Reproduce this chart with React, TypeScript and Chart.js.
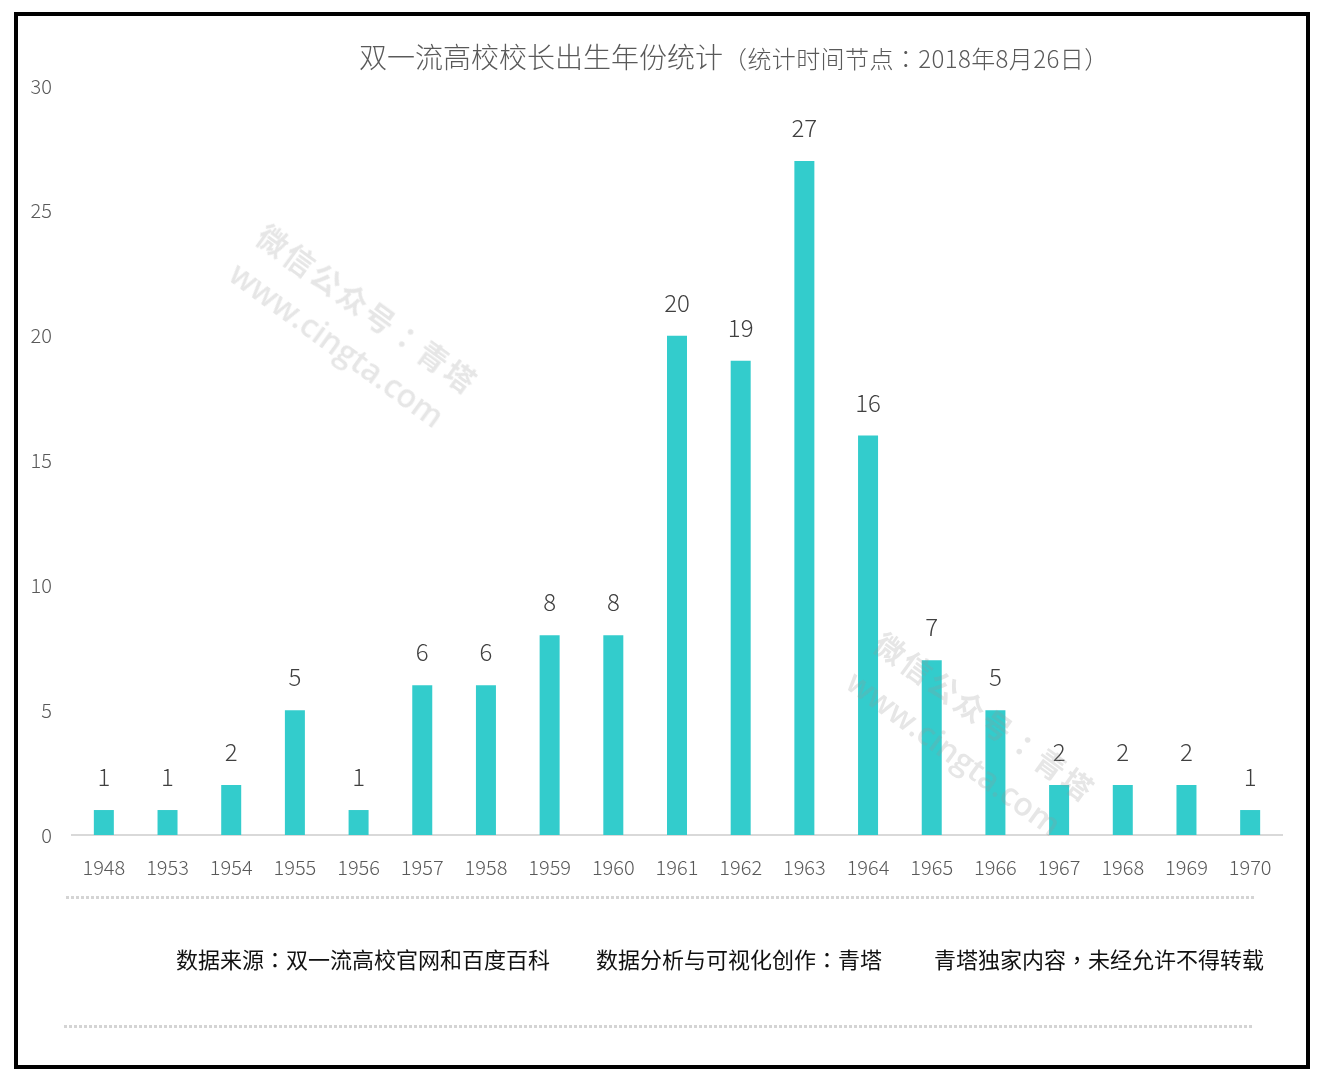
import React, { useEffect, useRef } from "react";
import { Chart, registerables } from "chart.js";

Chart.register(...registerables);

const years = ["1948", "1953", "1954", "1955", "1956", "1957", "1958", "1959", "1960", "1961", "1962", "1963", "1964", "1965", "1966", "1967", "1968", "1969", "1970"];
const counts = [1, 1, 2, 5, 1, 6, 6, 8, 8, 20, 19, 27, 16, 7, 5, 2, 2, 2, 1];
const yMin = 0;
const yMax = 30;
const yStep = 5;
const titleMain = "双一流高校校长出生年份统计";
const titleSub = "（统计时间节点：2018年8月26日）";
const footerNotes = ["数据来源：双一流高校官网和百度百科", "数据分析与可视化创作：青塔", "青塔独家内容，未经允许不得转载"];
const footerX = [176, 596, 934];
const watermarkLines = ["微信公众号：青塔", "www.cingta.com"];
const watermarkSpots = [
  [276, 211],
  [893, 619],
];

const FONT = "'Noto Sans CJK SC', 'Open Sans', sans-serif";
const PUNCT_FONT = "'Noto Sans CJK TC', 'Noto Sans CJK SC', sans-serif";

function Txt({ text }: { text: string }) {
  const parts: React.ReactNode[] = [];
  let buf = "";
  let k = 0;
  for (const ch of text) {
    if ("：，（）".includes(ch)) {
      if (buf) parts.push(<span key={k++}>{buf}</span>);
      buf = "";
      parts.push(
        <span key={k++} style={{ fontFamily: PUNCT_FONT }}>
          {ch}
        </span>
      );
    } else buf += ch;
  }
  if (buf) parts.push(<span key={k++}>{buf}</span>);
  return <>{parts}</>;
}

const labelPlugin = {
  id: "valueLabels",
  afterDatasetsDraw(chart: any) {
    const ctx = chart.ctx;
    const meta = chart.getDatasetMeta(0);
    ctx.save();
    ctx.font = `300 24px ${FONT}`;
    ctx.fillStyle = "#404040";
    ctx.textAlign = "center";
    ctx.textBaseline = "middle";
    meta.data.forEach((el: any, i: number) => {
      ctx.fillText(String(chart.data.datasets[0].data[i]), el.x, el.y - 33);
    });
    ctx.restore();
  },
};

const dottedPlugin = {
  id: "dottedLines",
  afterDraw(chart: any) {
    const ctx = chart.ctx;
    ctx.save();
    ctx.strokeStyle = "#d4d4d4";
    ctx.lineWidth = 3;
    ctx.setLineDash([3, 2]);
    ctx.beginPath();
    ctx.moveTo(66, 897.5);
    ctx.lineTo(1254, 897.5);
    ctx.moveTo(64, 1026.5);
    ctx.lineTo(1252, 1026.5);
    ctx.stroke();
    ctx.restore();
  },
};

export default function App() {
  const ref = useRef<HTMLCanvasElement | null>(null);

  useEffect(() => {
    if (!ref.current) return;
    const chart = new Chart(ref.current, {
      type: "bar",
      data: {
        labels: years,
        datasets: [
          {
            data: counts,
            backgroundColor: "#33CCCC",
            barPercentage: 0.314,
            categoryPercentage: 1,
          },
        ],
      },
      options: {
        animation: false,
        responsive: false,
        layout: { padding: { left: 0, right: 38, top: 86, bottom: 191 } },
        plugins: {
          legend: { display: false },
          tooltip: { enabled: false },
          title: { display: false },
        },
        scales: {
          x: {
            grid: { display: false, drawTicks: false },
            border: { display: true, color: "#d9d9d9", width: 2 },
            ticks: {
              color: "#595959",
              font: { family: FONT, size: 20, weight: "300" as any },
              padding: 20,
              maxRotation: 0,
              autoSkip: false,
            },
            afterFit(scale: any) {
              scale.height = 60;
            },
          },
          y: {
            min: yMin,
            max: yMax,
            grid: { display: false, drawTicks: false },
            border: { display: false },
            ticks: {
              stepSize: yStep,
              color: "#595959",
              font: { family: FONT, size: 20, weight: "300" as any },
              padding: 20,
            },
            afterFit(scale: any) {
              scale.width = 72;
            },
          },
        },
      },
      plugins: [labelPlugin, dottedPlugin],
    });
    return () => chart.destroy();
  }, []);

  return (
    <div style={{ position: "absolute", left: 0, top: 0, width: 1320, height: 1086, background: "#fff", overflow: "hidden", fontFamily: FONT }}>
      <canvas ref={ref} width={1320} height={1086} style={{ position: "absolute", left: 0, top: 0, width: 1320, height: 1086 }} />
      <div style={{ position: "absolute", left: 359, top: 38, lineHeight: "36px", whiteSpace: "nowrap", color: "#595959", fontWeight: 300 }}>
        <span style={{ fontSize: 28 }}>{titleMain}</span>
        <span style={{ fontSize: 24, letterSpacing: 0.4 }}>
          <Txt text={titleSub} />
        </span>
      </div>
      {footerNotes.map((t, i) => (
        <div key={i} style={{ position: "absolute", left: footerX[i], top: 942, lineHeight: "32px", fontSize: 22, color: "#111", whiteSpace: "nowrap" }}>
          <Txt text={t} />
        </div>
      ))}
      {watermarkSpots.map((p, i) => (
        <div
          key={i}
          style={{
            position: "absolute",
            left: p[0],
            top: p[1],
            transform: "rotate(36deg)",
            transformOrigin: "0 0",
            color: "rgba(150,150,150,0.24)",
            fontSize: 30,
            fontWeight: 700,
            lineHeight: "48px",
            whiteSpace: "nowrap",
            pointerEvents: "none",
          }}
        >
          <div style={{ letterSpacing: 3 }}>
            <Txt text={watermarkLines[0]} />
          </div>
          <div style={{ fontFamily: "'Open Sans', sans-serif", fontSize: 32, fontWeight: 600 }}>{watermarkLines[1]}</div>
        </div>
      ))}
      <div style={{ position: "absolute", left: 14, top: 12, width: 1296, height: 1057, boxSizing: "border-box", border: "4px solid #000", pointerEvents: "none" }} />
    </div>
  );
}
